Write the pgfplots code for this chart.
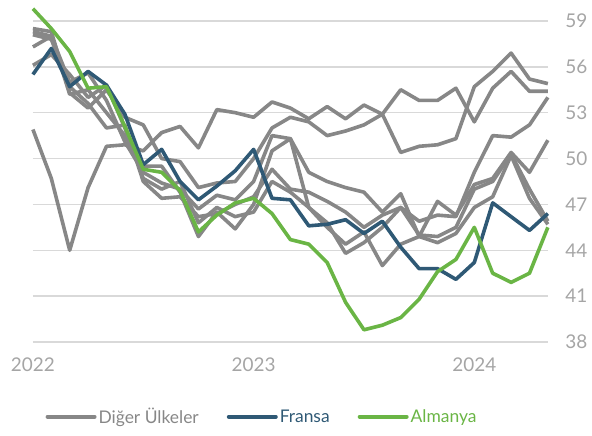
\documentclass[border=0pt]{standalone}
\usepackage{fontspec}
\setmainfont{Lato}
\usepackage{pgfplots}
\usepackage{pgfplotstable}
\pgfplotsset{compat=1.18}
\definecolor{cgray}{RGB}{135,135,135}
\definecolor{cblue}{RGB}{47,89,117}
\definecolor{cgreen}{RGB}{106,181,69}
\definecolor{tgray}{RGB}{165,165,165}
\definecolor{gridc}{RGB}{217,217,217}

\pgfplotstableread{
i  de   fr   gx   gy   ga   gb   gc   gd
0  59.8 55.5 51.9 58.5 58.3 58.1 57.3 56.1
1  58.5 57.2 48.7 58.3 58.0 57.8 58.0 56.8
2  57.0 54.7 44.0 54.3 55.0 54.7 54.2 55.5
3  54.6 55.7 48.1 53.3 55.6 53.6 54.5 54.0
4  54.7 54.8 50.8 54.5 53.8 52.0 53.0 54.8
5  52.1 52.9 50.9 52.7 51.1 52.2 51.5 52.0
6  49.3 49.6 50.5 52.2 49.1 48.5 49.5 48.7
7  49.1 50.6 51.7 50.0 48.4 47.4 49.5 48.0
8  47.9 48.5 52.1 49.8 48.0 47.5 47.8 48.5
9  45.2 47.3 50.7 48.1 46.7 46.2 44.9 45.8
10 46.3 48.2 53.2 48.4 47.6 46.4 46.5 46.8
11 47.1 49.2 53.0 48.5 47.3 47.0 45.4 46.2
12 47.4 50.6 52.7 50.0 48.5 47.5 47.0 46.5
13 46.4 47.4 53.7 52.0 51.5 49.3 50.5 48.5
14 44.7 47.3 53.3 52.7 51.3 48.0 51.3 47.8
15 44.4 45.6 52.6 52.4 49.1 47.8 46.8 46.8
16 43.2 45.7 53.4 51.5 48.5 47.2 45.8 45.5
17 40.6 46.0 52.6 51.8 48.1 46.5 43.8 44.4
18 38.8 45.1 53.5 52.2 47.8 45.5 44.5 45.2
19 39.1 45.9 52.9 52.9 46.5 46.3 45.5 43.0
20 39.6 44.2 54.5 50.4 47.7 46.8 46.8 44.4
21 40.8 42.8 53.8 50.8 44.9 45.9 45.0 44.9
22 42.6 42.8 53.8 50.9 47.2 46.3 44.9 44.5
23 43.4 42.1 54.6 51.3 46.3 46.2 45.5 45.1
24 45.5 43.2 52.4 54.7 48.3 49.1 48.0 46.8
25 42.5 47.1 54.6 55.7 48.7 51.5 48.5 47.5
26 41.9 46.2 55.7 56.9 50.4 51.4 50.3 50.2
27 42.5 45.3 54.4 55.2 49.1 52.2 48.0 47.4
28 45.5 46.4 54.4 54.9 51.2 54.0 45.9 45.7
}\data

\begin{document}
\begin{tikzpicture}
\begin{axis}[
  width=515bp, height=336.4bp, scale only axis,
  xmin=0, xmax=28, ymin=38, ymax=60,
  clip=false,
  axis line style={draw=none},
  major tick length=0pt,
  xtick={0,12,24}, xticklabels={2022,2023,2024},
  ytick={38,41,44,47,50,53,56,59},
  yticklabel pos=right,
  ymajorgrids, grid style={gridc, line width=1.5bp},
  /pgf/number format/assume math mode=true,
  tick label style={font=\fontsize{19}{20}\selectfont, text=tgray},
  yticklabel style={anchor=west, xshift=14bp},
  xticklabel style={yshift=-12bp},
  every axis plot post/.append style={line width=3.6bp, line join=round, mark=none},
  legend columns=3,
  legend style={draw=none, fill=none, at={(0.445,-0.222)}, anchor=center,
    font=\fontsize{17.5}{18}\selectfont,
    nodes={inner xsep=2bp},
    /tikz/every even column/.append style={column sep=26bp}},
  legend image code/.code={\draw[line width=4bp, line cap=round] (0bp,0bp) -- (47bp,0bp);},
]
\path (axis cs:-1.79,31.86) rectangle (axis cs:30.4,60.37);
\addplot[cgray] table[x=i,y=gx] {\data};
\addlegendentry{\textcolor{cgray}{Diğer Ülkeler}}
\addplot[cgray, forget plot] table[x=i,y=gy] {\data};
\addplot[cgray, forget plot] table[x=i,y=ga] {\data};
\addplot[cgray, forget plot] table[x=i,y=gb] {\data};
\addplot[cgray, forget plot] table[x=i,y=gc] {\data};
\addplot[cgray, forget plot] table[x=i,y=gd] {\data};
\addplot[cblue] table[x=i,y=fr] {\data};
\addlegendentry{\textcolor{cblue}{Fransa}}
\addplot[cgreen] table[x=i,y=de] {\data};
\addlegendentry{\textcolor{cgreen}{Almanya}}
\end{axis}
\end{tikzpicture}
\end{document}
